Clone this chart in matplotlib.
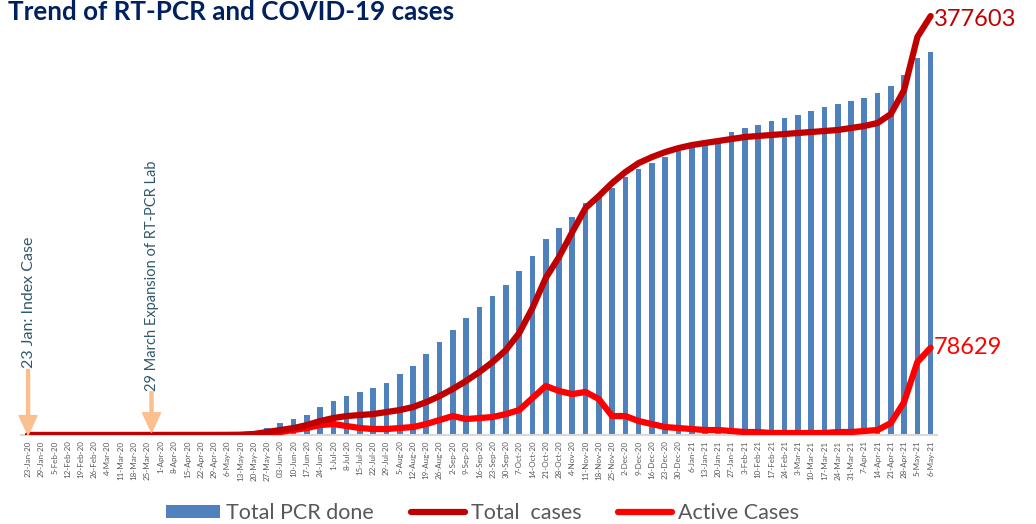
import numpy as np
import matplotlib.pyplot as plt

plt.rcParams['font.family'] = ['Lato', 'DejaVu Sans']

# weekly dates
dates = ['23-Jan-20', '29-Jan-20', '5-Feb-20', '12-Feb-20', '19-Feb-20', '26-Feb-20',
         '4-Mar-20', '11-Mar-20', '18-Mar-20', '25-Mar-20', '1-Apr-20', '8-Apr-20',
         '15-Apr-20', '22-Apr-20', '29-Apr-20', '6-May-20', '13-May-20', '20-May-20',
         '27-May-20', '03-Jun-20', '10-Jun-20', '17-Jun-20', '24-Jun-20', '1-Jul-20',
         '8-Jul-20', '15-Jul-20', '22-Jul-20', '29-Jul-20', '5-Aug-20', '12-Aug-20',
         '19-Aug-20', '26-Aug-20', '2-Sep-20', '9-Sep-20', '16-Sep-20', '23-Sep-20',
         '30-Sep-20', '7-Oct-20', '14-Oct-20', '21-Oct-20', '28-Oct-20', '4-Nov-20',
         '11-Nov-20', '18-Nov-20', '25-Nov-20', '2-Dec-20', '9-Dec-20', '16-Dec-20',
         '23-Dec-20', '30-Dec-20', '6-Jan-21', '13-Jan-21', '20-Jan-21', '27-Jan-21',
         '3-Feb-21', '10-Feb-21', '17-Feb-21', '24-Feb-21', '3-Mar-21', '10-Mar-21',
         '17-Mar-21', '24-Mar-21', '31-Mar-21', '7-Apr-21', '14-Apr-21', '21-Apr-21',
         '28-Apr-21', '5-May-21', '6-May-21']

pcr_done = [500, 800, 1000, 1200, 1400, 1600, 1800, 2000, 2200, 2500, 3000, 3500,
            4000, 4500, 5000, 10000, 20000, 40000, 70000, 120000, 160000, 200000,
            280000, 340000, 390000, 430000, 470000, 520000, 610000, 690000, 810000,
            930000, 1050000, 1170000, 1280000, 1390000, 1500000, 1640000, 1790000,
            1960000, 2070000, 2180000, 2320000, 2390000, 2470000, 2580000, 2660000,
            2720000, 2780000, 2840000, 2880000, 2920000, 2950000, 3030000, 3070000,
            3100000, 3140000, 3170000, 3200000, 3240000, 3280000, 3310000, 3340000,
            3370000, 3420000, 3490000, 3600000, 3770000, 3830000]

total_cases = [1, 1, 1, 1, 1, 1, 1, 2, 5, 10, 20, 30, 40, 50, 60, 80, 150, 900,
               2700, 4500, 6300, 9000, 12600, 15300, 17100, 18000, 18900, 20700,
               22500, 25200, 29700, 35100, 41500, 48700, 56800, 65800, 76600, 91900,
               114500, 141500, 160400, 182900, 204600, 215400, 227100, 237000, 245100,
               250500, 255000, 258600, 261300, 263200, 265000, 266800, 268600, 269500,
               270400, 271300, 272200, 273100, 274000, 274900, 276700, 278500, 281200,
               289300, 310900, 358700, 377603]

active_cases = [1, 1, 1, 1, 1, 1, 1, 2, 5, 10, 18, 20, 15, 10, 10, 30, 100, 600,
                900, 2700, 4500, 6300, 9000, 9900, 8100, 6300, 5400, 5400, 6300, 7200,
                9900, 13500, 17100, 14400, 15300, 16200, 18900, 22500, 33300, 44200,
                39700, 36900, 38800, 32400, 17100, 17100, 12600, 9900, 7200, 6300, 5400,
                4500, 4500, 3600, 2700, 2700, 1800, 1800, 1800, 1800, 1800, 2700, 2700,
                3600, 4500, 10800, 29700, 65800, 78629]

x = np.arange(len(dates))

fig = plt.figure(figsize=(10.36, 5.24), dpi=100)
ax2 = fig.add_axes([0.0207, 0.1698, 0.884, 0.811])
ax = ax2.twinx()

# bars on their own scale
ax2.bar(x, pcr_done, width=0.42, color='#4F81BD', label='Total PCR done', zorder=2)
ax2.set_ylim(0, 4250000)

ax.plot(x, total_cases, color='#C00000', lw=4.5, solid_joinstyle='round',
        solid_capstyle='round', label='Total  cases', zorder=4)
ax.plot(x, active_cases, color='#FF0000', lw=4.5, solid_joinstyle='round',
        solid_capstyle='round', label='Active Cases', zorder=3)
ax.set_ylim(0, 383000)
ax.set_xlim(-0.5, len(dates) - 0.5)

for a in (ax, ax2):
    for s in a.spines.values():
        s.set_visible(False)
    a.set_yticks([])
ax2.spines['bottom'].set_visible(True)
ax2.spines['bottom'].set_color('#D9D9D9')
ax2.spines['bottom'].set_linewidth(1.5)

ax2.set_xticks(x)
ax2.set_xticklabels(dates, rotation=90, fontsize=5.8, color='#595959')
ax2.tick_params(axis='x', length=0, pad=4)

# end labels
ax.text(len(dates) - 0.75, total_cases[-1] - 3000, str(total_cases[-1]), color='#C00000',
        fontsize=17, va='center', ha='left')
ax.text(len(dates) - 0.75, active_cases[-1], str(active_cases[-1]), color='#FF0000',
        fontsize=17, va='center', ha='left')

# event arrows
arrow_kw = dict(facecolor='#FAC090', edgecolor='#FAC090', width=2.2,
                headwidth=13, headlength=14)
ax.annotate('', xy=(0, 0), xytext=(0, 59000), arrowprops=arrow_kw, zorder=5)
ax.text(0.1, 60000, '23 Jan: Index Case', rotation=90, ha='center', va='bottom',
        color='#31596B', fontsize=11.5)
ax.annotate('', xy=(9.3, 2500), xytext=(9.3, 39000), arrowprops=arrow_kw, zorder=5)
ax.text(9.3, 40000, '29 March Expansion of RT-PCR Lab', rotation=90, ha='center',
        va='bottom', color='#31596B', fontsize=10.5)

fig.text(0.008, 0.977, 'Trend of RT-PCR and COVID-19 cases', fontsize=18.7,
         fontweight='bold', color='#002060', va='center', ha='left')

h1, l1 = ax2.get_legend_handles_labels()
h2, l2 = ax.get_legend_handles_labels()
fig.legend(h1 + h2, l1 + l2, loc='lower center', bbox_to_anchor=(0.466, -0.036),
           ncol=3, frameon=False, fontsize=15.5, labelcolor='#595959',
           handlelength=2.5, handletextpad=0.3, columnspacing=1.7, handleheight=0.55)

fig.savefig('out.png', dpi=100)
